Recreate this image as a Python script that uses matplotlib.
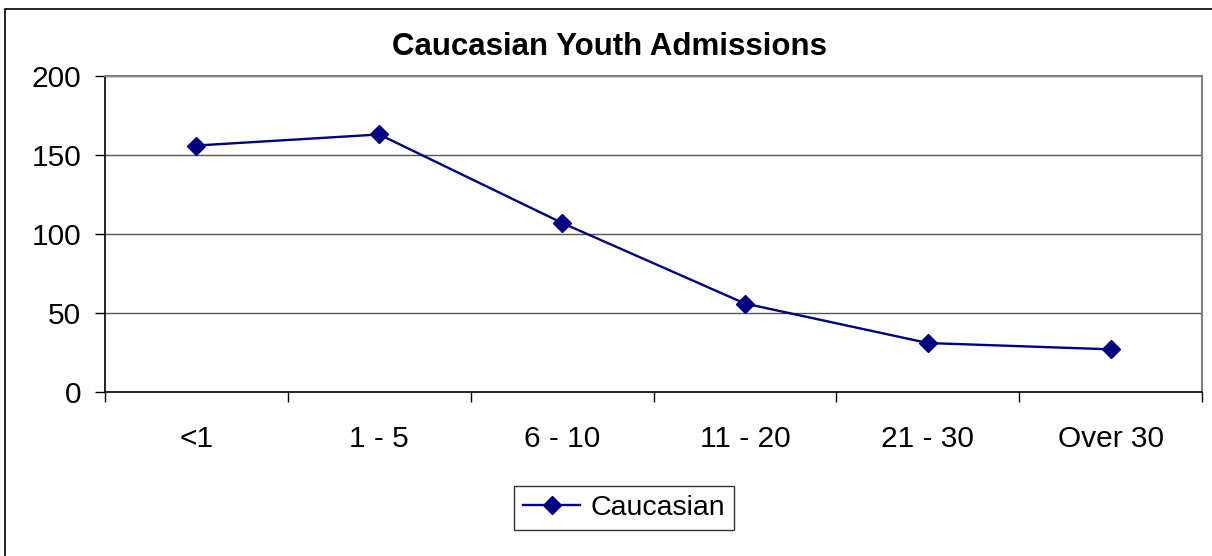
import matplotlib
matplotlib.use("Agg")
import matplotlib.pyplot as plt
from matplotlib.patches import Rectangle

categories = ["<1", "1 - 5", "6 - 10", "11 - 20", "21 - 30", "Over 30"]
values = [156, 163, 107, 56, 31, 27]
yticks = [0, 50, 100, 150, 200]
title = "Caucasian Youth Admissions"
series_name = "Caucasian"

plt.rcParams['font.family'] = ['Liberation Sans', 'DejaVu Sans']

fig = plt.figure(figsize=(12.12, 5.56), dpi=100)
fig.patches.append(Rectangle((5/1212, -0.2), 1.2, 0.2 + (556-9)/556, transform=fig.transFigure,
                             fill=False, edgecolor='black', linewidth=1.2))

ax = fig.add_axes([105/1212, (556-392)/556, (1202-105)/1212, (392-76)/556])
x = [i + 0.5 for i in range(len(categories))]
line, = ax.plot(x, values, color='#000080', linewidth=1.7, marker='D', markersize=9.5,
                markerfacecolor='#000080', markeredgecolor='#000080', label=series_name)

ax.set_xlim(0, len(categories))
ax.set_ylim(0, 200)
ax.set_yticks(yticks)
ax.set_yticklabels([str(v) for v in yticks], fontsize=21.5)
ax.set_xticks(range(len(categories) + 1))
ax.set_xticklabels([])
ax.set_xticks(x, minor=True)
ax.set_xticklabels(categories, minor=True, fontsize=21.5)
ax.tick_params(axis='x', which='minor', length=0, pad=24)
ax.tick_params(axis='x', which='major', direction='out', length=7, width=1, color='black')
ax.tick_params(axis='y', direction='out', length=7, width=1, color='black', pad=10)

for v in yticks[1:]:
    ax.axhline(v, color='#555555', linewidth=1.0, zorder=0)

ax.spines['left'].set_color('black')
ax.spines['left'].set_linewidth(1.2)
ax.spines['bottom'].set_color('black')
ax.spines['bottom'].set_linewidth(1.2)
ax.spines['right'].set_color('#808080')
ax.spines['right'].set_linewidth(1.5)
ax.spines['top'].set_color('#808080')
ax.spines['top'].set_linewidth(1.5)

fig.text(609/1212, 1 - 47/556, title, fontsize=22.5, fontweight='bold', ha='center', va='center')

leg = fig.legend(handles=[line], loc='center', bbox_to_anchor=(624/1212, 1 - 508/556),
                 fontsize=20.5, frameon=True, fancybox=False, edgecolor='black',
                 handlelength=2.0, handletextpad=0.35, borderpad=0.32, borderaxespad=0)
leg.get_frame().set_linewidth(1.0)

fig.savefig("out.png", dpi=100)
